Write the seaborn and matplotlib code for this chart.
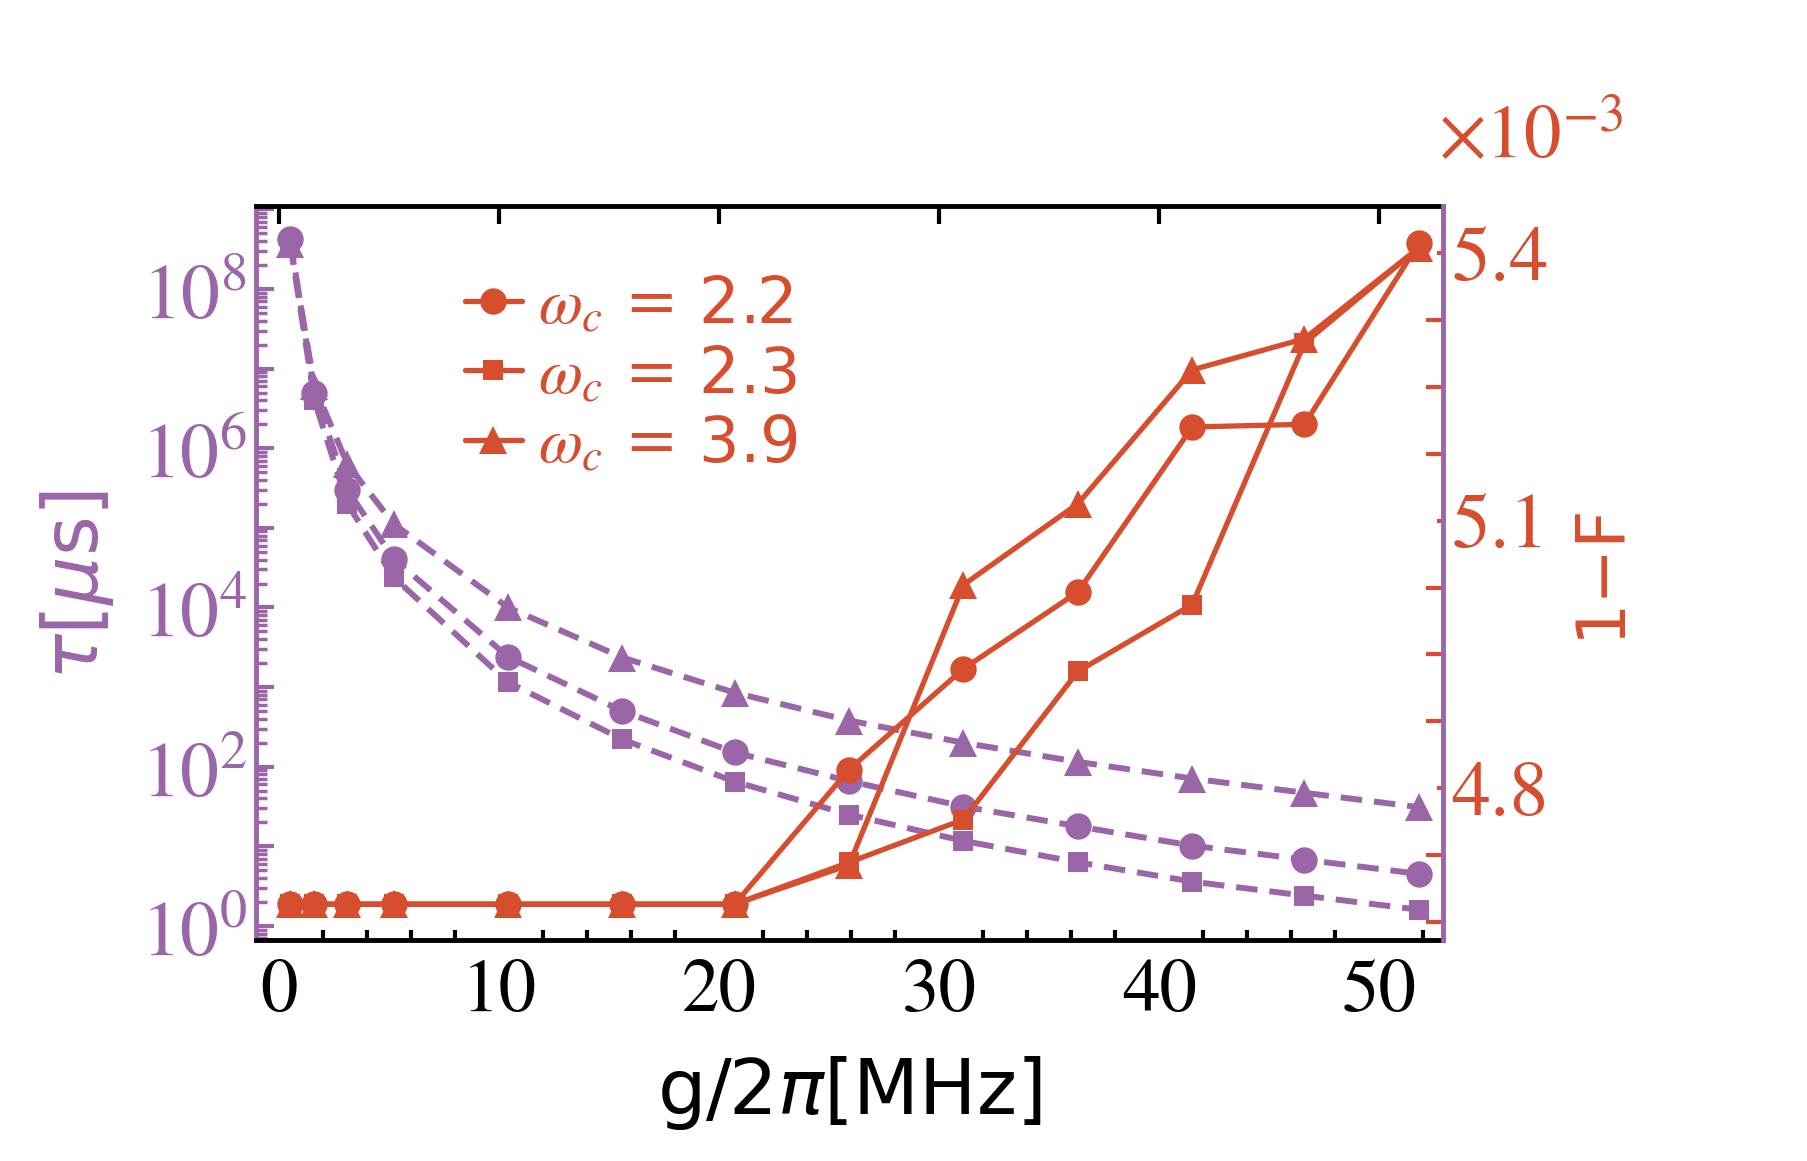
import numpy as np
import pandas as pd
import matplotlib
matplotlib.use("Agg")
import matplotlib.pyplot as plt
from matplotlib.lines import Line2D
from matplotlib.ticker import FixedLocator, FuncFormatter, MultipleLocator, NullFormatter
import seaborn as sns

# ----------------------------------------------------------
# DATA
# ----------------------------------------------------------
g = [0.5, 1.6, 3.1, 5.2, 10.4, 15.6, 20.7, 25.9, 31.1, 36.3, 41.5, 46.6, 51.8]
wc_labels = ["2.2", "2.3", "3.9"]

# lifetime tau [us] (left, log axis)
tau_22 = [4.2e8, 4.9e6, 3.0e5, 4.1e4, 2400, 500, 151, 66, 31.6, 17.8, 10.2, 6.8, 4.5]
tau_23 = [3.8e8, 4.0e6, 2.0e5, 2.4e4, 1150, 220, 65, 25, 11.7, 6.3, 3.6, 2.4, 1.6]
tau_39 = [3.7e8, 6.0e6, 6.3e5, 1.12e5, 1.0e4, 2350, 850, 380, 200, 115, 71, 47, 31]

# infidelity 1-F (x1e-3, right axis)
inf_22 = [4.67, 4.67, 4.67, 4.67, 4.67, 4.67, 4.67, 4.821, 4.934, 5.020, 5.205, 5.208, 5.411]
inf_23 = [4.67, 4.67, 4.67, 4.67, 4.67, 4.67, 4.67, 4.717, 4.765, 4.931, 5.006, 5.299, 5.406]
inf_39 = [4.67, 4.67, 4.67, 4.67, 4.67, 4.67, 4.67, 4.714, 5.028, 5.119, 5.269, 5.304, 5.406]

purple = "#9b66a8"
red = "#d64e2d"

markers = {"2.2": ("o", 19), "2.3": ("s", 14), "3.9": ("^", 20)}
tau_series = {"2.2": tau_22, "2.3": tau_23, "3.9": tau_39}
inf_series = {"2.2": inf_22, "2.3": inf_23, "3.9": inf_39}

# ----------------------------------------------------------
# STYLE
# ----------------------------------------------------------
sns.set_theme(style="white")
plt.rcParams["font.family"] = ["DejaVu Sans"]
plt.rcParams["mathtext.fontset"] = "stix"

fig = plt.figure(figsize=(18.07, 11.61), dpi=100)
ax = fig.add_axes([0.1415, 0.1904, 0.7986 - 0.1415, 0.8228 - 0.1904])
ax2 = ax.twinx()

# ----------------------------------------------------------
# PLOTS
# ----------------------------------------------------------
for wc in wc_labels:
    m, ms = markers[wc]
    sns.lineplot(x=g, y=tau_series[wc], ax=ax, color=purple, marker=m,
                 markersize=ms, markeredgewidth=0, lw=4.3,
                 linestyle=(0, (3.6, 2.0)), legend=False)

for wc in wc_labels:
    m, ms = markers[wc]
    sns.lineplot(x=g, y=inf_series[wc], ax=ax2, color=red, marker=m,
                 markersize=ms, markeredgewidth=0, lw=3.8, legend=False)

# ----------------------------------------------------------
# AXES
# ----------------------------------------------------------
ax.set_xlim(-1.07, 52.9)
ax.set_yscale("log")
ax.set_ylim(10 ** -0.176, 10 ** 9.046)
ax2.set_ylim(4.630, 5.453)

# x axis
ax.xaxis.set_major_locator(MultipleLocator(10))
ax.xaxis.set_minor_locator(MultipleLocator(2))
ax.tick_params(axis="x", which="major", direction="in", length=13, width=3,
               color="black", labelsize=54, labelcolor="black", pad=14,
               top=True, labelfontfamily="STIXGeneral")
ax.tick_params(axis="x", which="minor", direction="in", length=7, width=3,
               color="black", top=False, bottom=True)

# left log axis
ax.yaxis.set_major_locator(FixedLocator([10.0 ** k for k in range(0, 10)]))
ax.yaxis.set_minor_locator(FixedLocator(
    [s * 10.0 ** k for k in range(-1, 10) for s in range(2, 10)]))
ax.yaxis.set_major_formatter(FuncFormatter(
    lambda v, p: r"$10^{%d}$" % round(np.log10(v)) if round(np.log10(v)) % 2 == 0 else ""))
ax.yaxis.set_minor_formatter(NullFormatter())
ax.tick_params(axis="y", which="major", direction="in", length=13, width=3,
               color=purple, labelsize=56, labelcolor=purple, pad=6)
ax.tick_params(axis="y", which="minor", direction="in", length=8, width=2.5,
               color=purple)

# right linear axis
ax2.yaxis.set_major_locator(FixedLocator([4.8, 5.1, 5.4]))
ax2.yaxis.set_minor_locator(FixedLocator(
    [4.65, 4.725, 4.875, 4.95, 5.025, 5.175, 5.25, 5.325]))
ax2.yaxis.set_major_formatter(FuncFormatter(lambda v, p: f"{v:.1f}"))
ax2.tick_params(axis="y", which="major", direction="in", length=4, width=3,
                color=red, labelsize=56, labelcolor=red, pad=6,
                labelfontfamily="STIXGeneral")
ax2.tick_params(axis="y", which="minor", direction="in", length=12, width=3,
                color=red)

# spines
for s in ["top", "bottom"]:
    ax.spines[s].set_color("black")
    ax.spines[s].set_linewidth(3.5)
    ax2.spines[s].set_visible(False)
ax.spines["left"].set_color(purple)
ax.spines["left"].set_linewidth(3.5)
ax.spines["right"].set_visible(False)
ax2.spines["left"].set_visible(False)
ax2.spines["right"].set_color(purple)
ax2.spines["right"].set_linewidth(3.5)

# labels
ax.set_xlabel(r"g/2$\pi$[MHz]", fontsize=55, color="black")
ax.xaxis.set_label_coords(0.5, -0.155)
ax.xaxis.label.set_verticalalignment("top")
ax.set_ylabel(r"$\tau$[$\mu$s]", fontsize=55, color=purple)
ax.yaxis.set_label_coords(-0.118, 0.483)
ax2.set_ylabel("1\u2212F", fontsize=48, color=red)
ax2.yaxis.set_label_coords(1.104, 0.504)

for t in [ax.xaxis.label, ax.yaxis.label]:
    t.set_math_fontfamily("dejavusans")

ax2.text(0.996, 1.066, r"$\times10^{-3}$", transform=ax.transAxes,
         fontsize=54, color=red, ha="left", va="baseline")

# legend
handles = [Line2D([], [], color=red, marker=markers[wc][0],
                  markersize=markers[wc][1], markeredgewidth=0, lw=3.8)
           for wc in wc_labels]
labels = [r"$\omega_c$ = " + wc for wc in wc_labels]
leg = ax2.legend(handles, labels, loc="upper left", bbox_to_anchor=(0.176, 0.907),
                 frameon=False, fontsize=46, handlelength=0.9, handletextpad=0.25,
                 labelspacing=0.12, borderaxespad=0, borderpad=0, labelcolor=red)

fig.savefig("out.png", dpi=100)
